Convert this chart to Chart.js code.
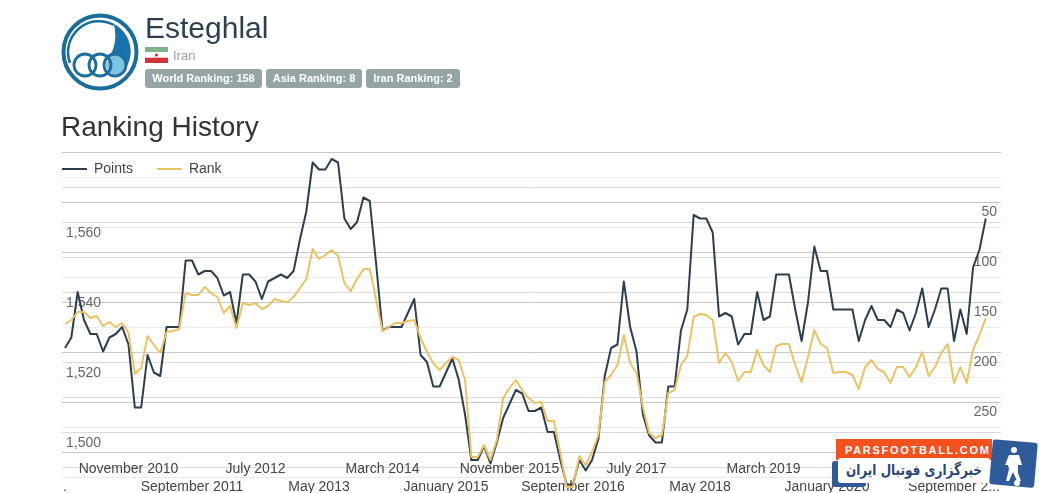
<!DOCTYPE html>
<html>
<head>
<meta charset="utf-8">
<title>Esteghlal Ranking History</title>
<script src="https://cdn.jsdelivr.net/npm/chart.js@4/dist/chart.umd.js"></script>
<style>
    html, body { margin: 0; padding: 0; background: #fff; width: 1040px; height: 493px; overflow: hidden; font-family: "Liberation Sans", Arial, sans-serif; }
    #chart { position: absolute; left: 0; top: 0; }
    .logo { position: absolute; left: 60px; top: 11px; }
    .name { position: absolute; left: 145px; top: 10px; font-size: 30px; line-height: 36px; color: #2c3e50; }
    .flag { position: absolute; left: 145px; top: 47px; }
    .country { position: absolute; left: 173px; top: 48px; font-size: 13px; line-height: 16px; color: #95a5a6; }
    .badge { position: absolute; top: 69px; height: 19px; line-height: 19px; background: #95a5a6; color: #fff; font-size: 11px; font-weight: bold; border-radius: 3px; text-align: center; }
    .heading { position: absolute; left: 61px; top: 109px; font-size: 28px; line-height: 36px; color: #333; }
    .wm-orange { position: absolute; left: 836px; top: 439px; width: 156px; height: 21px; background: #f4511e; color: #fff; font: bold 11px "Liberation Sans", sans-serif; letter-spacing: 1.7px; line-height: 22px; padding-left: 9px; box-sizing: border-box; }
    .wm-blue { position: absolute; left: 832px; top: 461px; width: 34px; height: 26px; background: #2f5b9a; border-radius: 3px; }
    .wm-white { position: absolute; left: 838px; top: 458px; width: 152px; height: 25px; background: #fff; border-radius: 3px; color: #27467c; white-space: nowrap; overflow: hidden; }
    .wm-text { position: absolute; left: 76px; top: 0; transform: translateX(-50%) scaleX(0.8); font: bold 15px "DejaVu Sans", sans-serif; line-height: 24px; direction: rtl; }
    .wm-icon { position: absolute; left: 987px; top: 437px; }
</style>
</head>
<body>
<canvas id="chart" width="1040" height="493"></canvas>

<svg class="logo" width="80" height="82" viewBox="0 0 80 82">
    <circle cx="40" cy="41" r="36.5" fill="#fff" stroke="#1a6d9c" stroke-width="4"/>
    <path d="M 10 52 A 31 31 0 0 1 54 14" fill="none" stroke="#1a6d9c" stroke-width="2.5"/>
    <path d="M 54 13 A 31 31 0 0 1 62 62 L 56 56 L 50 44 Q 58 32 54 13 Z" fill="#1a72ae"/>
    <circle cx="56" cy="54" r="10" fill="#7cc5e0"/>
    <circle cx="25" cy="54" r="11" fill="none" stroke="#1a6d9c" stroke-width="2.8"/>
    <circle cx="40" cy="54" r="11" fill="none" stroke="#1a6d9c" stroke-width="2.8"/>
    <circle cx="55" cy="54" r="11" fill="none" stroke="#1a6d9c" stroke-width="2.8"/>
</svg>
<div class="name">Esteghlal</div>
<svg class="flag" width="23" height="16" viewBox="0 0 23 16">
    <rect width="23" height="5.3" fill="#7fb48e"/>
    <rect y="5.3" width="23" height="5.4" fill="#fff"/>
    <rect y="10.7" width="23" height="5.3" fill="#d0343a"/>
    <circle cx="11.5" cy="8" r="1.6" fill="#d0343a"/>
</svg>
<div class="country">Iran</div>
<div class="badge" style="left:145px;width:117px">World Ranking: 158</div>
<div class="badge" style="left:266px;width:96px">Asia Ranking: 8</div>
<div class="badge" style="left:366px;width:94px">Iran Ranking: 2</div>
<div class="heading">Ranking History</div>

<div class="wm-blue"></div>
<div class="wm-orange">PARSFOOTBALL.COM</div>
<div class="wm-white"><span class="wm-text">خبرگزاری فوتبال ایران</span></div>
<svg class="wm-icon" width="53" height="53" viewBox="0 0 53 53">
    <rect x="4" y="4" width="45" height="45" rx="3" fill="#2f5b9a" transform="rotate(5 26 26)"/>
    <circle cx="27" cy="13" r="3" fill="#fff"/>
    <path d="M 22 18 L 32 18 L 35 28 L 31 28 L 31 36 L 34 44 L 30 44 L 26 35 L 22 44 L 19 44 L 22 32 L 21 28 L 18 28 Z" fill="#fff"/>
    <circle cx="30" cy="46" r="3" fill="#fff"/>
</svg>

<script>
// Chart data, one value per month from January 2010
const pointsValues = [
    1524, 1527, 1540, 1532, 1528, 1528, 1523, 1527, 1528, 1530,
    1525, 1507, 1507, 1522, 1517, 1516, 1530, 1530, 1530, 1549,
    1549, 1545, 1546, 1546, 1544, 1539, 1540, 1531, 1545, 1545,
    1543, 1538, 1543, 1544, 1545, 1544, 1546, 1555, 1563, 1577,
    1575, 1575, 1578, 1577, 1561, 1558, 1560, 1567, 1566, 1548,
    1529, 1530, 1530, 1530, 1534, 1538, 1522, 1520, 1513, 1513,
    1517, 1521, 1515, 1505, 1492, 1492, 1496, 1491, 1497, 1504,
    1508, 1512, 1511, 1506, 1506, 1507, 1500, 1500, 1492, 1485,
    1485, 1492, 1489, 1492, 1498, 1516, 1524, 1525, 1543, 1530,
    1523, 1505, 1499, 1497, 1497, 1513, 1513, 1529, 1535, 1562,
    1561, 1561, 1557, 1533, 1534, 1533, 1525, 1528, 1528, 1540,
    1532, 1533, 1545, 1545, 1545, 1535, 1526, 1537, 1553, 1546,
    1546, 1535, 1535, 1535, 1535, 1526, 1532, 1536, 1532, 1532,
    1530, 1535, 1534, 1529, 1534, 1541, 1530, 1535, 1541, 1541,
    1526, 1535, 1528, 1547, 1552, 1561
];
const rankValues = [
    172, 168, 160, 160, 166, 164, 174, 170, 175, 171,
    181, 222, 216, 184, 193, 201, 180, 179, 177, 141,
    143, 143, 135, 141, 145, 161, 154, 176, 151, 153,
    151, 157, 154, 147, 149, 150, 145, 136, 127, 97,
    107, 103, 98, 104, 131, 139, 127, 117, 117, 148,
    179, 175, 171, 171, 169, 168, 186, 200, 211, 218,
    211, 205, 208, 228, 305, 305, 293, 308, 288, 246,
    236, 228, 238, 246, 251, 250, 269, 269, 301, 335,
    335, 304, 313, 300, 283, 230, 223, 213, 183, 211,
    221, 255, 281, 286, 283, 241, 238, 213, 204, 165,
    162, 163, 168, 211, 201, 210, 229, 220, 220, 198,
    213, 220, 194, 192, 192, 213, 230, 205, 178, 192,
    196, 221, 220, 220, 223, 237, 215, 208, 217, 220,
    231, 215, 215, 225, 215, 200, 224, 215, 201, 192,
    231, 215, 231, 198, 183, 166
];
// Axis labels come every ten months, the reference clips the first and last one
const monthTicks = ['.', 'November 2010', 'September 2011', 'July 2012', 'May 2013', 'March 2014', 'January 2015',
    'November 2015', 'September 2016', 'July 2017', 'May 2018', 'March 2019', 'January 2020', 'November 2020', 'September 2...'];
const pointsGrid = [1490, 1500, 1510, 1520, 1530, 1540, 1550, 1560, 1570, 1580];
const pointsLabels = [1500, 1520, 1540, 1560];
const rankGrid = [0, 25, 50, 75, 100, 125, 150, 175, 200, 225, 250, 275, 300, 325];
const rankLabels = [50, 100, 150, 200, 250];

const monthsPerTick = 10;

const toPoints = values => values.map((v, i) => ({ x: i, y: v }));

// Axis labels sit inside the plot, so the scales take no room of their own
const noSpace = scale => {
    if (scale.isHorizontal()) {
        scale.height = 5;
    } else {
        scale.width = 0;
    }
    scale.paddingLeft = 0;
    scale.paddingRight = 0;
    scale.paddingTop = 0;
    scale.paddingBottom = 0;
};

// Legend is drawn inside the plot too
const moveLegend = {
    id: 'moveLegend',
    afterLayout(chart) {
        const legend = chart.legend;
        const h = legend.height;
        legend.left = 38;
        legend.top = 138;
        legend.bottom = 138 + h;
    }
};

new Chart(document.getElementById('chart'), {
    type: 'line',
    data: {
        datasets: [
            { label: 'Points', data: toPoints(pointsValues), yAxisID: 'y', borderColor: '#2c3e50', backgroundColor: '#2c3e50', borderWidth: 2, borderJoinStyle: 'round', pointRadius: 0, order: 1 },
            { label: 'Rank', data: toPoints(rankValues), yAxisID: 'rank', borderColor: '#ecc263', backgroundColor: '#ecc263', borderWidth: 2, borderJoinStyle: 'round', pointRadius: 0, order: 0 }
        ]
    },
    plugins: [moveLegend],
    options: {
        responsive: false,
        animation: false,
        layout: { padding: { left: 62, right: 39, top: 104, bottom: 0 } },
        elements: { line: { tension: 0 } },
        plugins: {
            tooltip: { enabled: false },
            legend: {
                position: 'top',
                align: 'start',
                labels: {
                    boxWidth: 25,
                    boxHeight: 2,
                    padding: 24,
                    color: '#444',
                    font: { family: 'Liberation Sans', size: 14 },
                    sort: (a, b) => a.datasetIndex - b.datasetIndex,
                    generateLabels: chart => Chart.defaults.plugins.legend.labels.generateLabels(chart)
                        .map(item => ({ ...item, lineWidth: 0 }))
                }
            }
        },
        scales: {
            x: {
                type: 'linear',
                min: -0.47,
                max: 147.4,
                border: { display: false },
                grid: { display: false, drawTicks: false },
                afterFit: noSpace,
                afterBuildTicks: scale => {
                    scale.ticks = monthTicks.map((label, i) => ({ value: i * monthsPerTick }));
                },
                ticks: {
                    autoSkip: false,
                    maxRotation: 0,
                    mirror: true,
                    padding: 10,
                    color: '#444',
                    font: { family: 'Liberation Sans', size: 14, lineHeight: 1.29 },
                    callback: value => {
                        const i = value / monthsPerTick;
                        return i % 2 === 1 ? [monthTicks[i], ''] : ['', monthTicks[i]];
                    }
                }
            },
            y: {
                position: 'left',
                min: 1484,
                max: 1580,
                border: { display: false },
                grid: { color: '#dadada', drawTicks: false },
                afterFit: noSpace,
                afterBuildTicks: scale => {
                    scale.ticks = pointsGrid.map(value => ({ value }));
                },
                ticks: {
                    mirror: true,
                    padding: 4,
                    labelOffset: 11,
                    color: '#666',
                    font: { family: 'Liberation Sans', size: 14 },
                    callback: value => pointsLabels.includes(value) ? value.toLocaleString('en-US') : ''
                }
            },
            rank: {
                position: 'right',
                reverse: true,
                min: 0,
                max: 336,
                border: { display: false },
                grid: {
                    drawTicks: false,
                    drawOnChartArea: true,
                    color: ctx => ctx.tick && ctx.tick.value % 50 === 0 ? '#c8c8c8' : '#ebebeb'
                },
                afterFit: noSpace,
                afterBuildTicks: scale => {
                    scale.ticks = rankGrid.map(value => ({ value }));
                },
                ticks: {
                    mirror: true,
                    padding: -4,
                    labelOffset: 10,
                    color: '#666',
                    font: { family: 'Liberation Sans', size: 14 },
                    callback: value => rankLabels.includes(value) ? String(value) : ''
                }
            }
        }
    }
});
</script>
</body>
</html>
